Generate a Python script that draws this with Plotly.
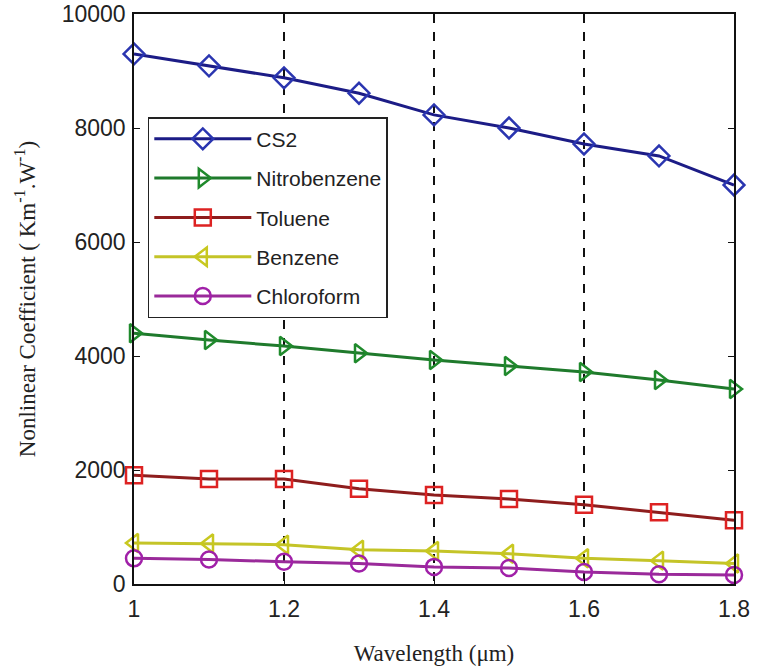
import plotly.graph_objects as go

wavelength = [1.0, 1.1, 1.2, 1.3, 1.4, 1.5, 1.6, 1.7, 1.8]
cs2 = [9300, 9090, 8880, 8610, 8230, 8000, 7720, 7510, 7000]
nitrobenzene = [4400, 4280, 4175, 4050, 3930, 3825, 3720, 3580, 3420]
toluene = [1910, 1840, 1840, 1670, 1560, 1490, 1390, 1260, 1120]
benzene = [720, 710, 690, 600, 580, 530, 450, 410, 360]
chloroform = [450, 430, 390, 360, 300, 280, 210, 170, 160]

x_ticks = [1, 1.2, 1.4, 1.6, 1.8]
x_tick_text = ["1", "1.2", "1.4", "1.6", "1.8"]
y_ticks = [0, 2000, 4000, 6000, 8000, 10000]
y_tick_text = ["0", "2000", "4000", "6000", "8000", "10000"]

series = [
    ("CS2", cs2, "#1c1c86", "#2a35b0", "diamond-open"),
    ("Nitrobenzene", nitrobenzene, "#1f7a2c", "#1f8a2c", "triangle-right-open"),
    ("Toluene", toluene, "#8e1d1d", "#dd2222", "square-open"),
    ("Benzene", benzene, "#c4c428", "#c8c820", "triangle-left-open"),
    ("Chloroform", chloroform, "#9a2a9a", "#a020a8", "circle-open"),
]

fig = go.Figure()
for i, (name, vals, lc, mc, sym) in enumerate(series):
    fig.add_trace(go.Scatter(
        x=wavelength, y=vals, name=name, mode="lines+markers",
        line=dict(color=lc, width=3),
        marker=dict(symbol=sym, size=16, color=mc, line=dict(color=mc, width=2.5)),
        cliponaxis=False, legendgroup=f"g{i}",
    ))

fig.update_layout(
    width=757, height=669,
    margin=dict(l=134, r=23, t=14, b=85),
    paper_bgcolor="white", plot_bgcolor="white",
    font=dict(family="Liberation Sans, Arial, sans-serif", color="#222"),
    showlegend=True,
    legend=dict(
        x=0.023, y=0.819, xanchor="left", yanchor="top",
        bgcolor="white", bordercolor="#222", borderwidth=1.5,
        font=dict(size=21, color="#222"),
        itemwidth=97, tracegroupgap=9,
    ),
    xaxis=dict(
        range=[1, 1.8], tickvals=x_ticks, ticktext=x_tick_text,
        automargin=False,
        showline=True, linecolor="#111", linewidth=1.5, mirror="ticks",
        ticks="inside", ticklen=6, tickcolor="#111", ticklabelstandoff=4,
        showgrid=True, gridcolor="#111", griddash="dash", gridwidth=1.5,
        zeroline=False, tickfont=dict(size=23, color="#222"),
        title=dict(text="Wavelength (μm)", standoff=24,
                   font=dict(family="Liberation Serif, Times New Roman, serif", size=23, color="#222")),
    ),
    yaxis=dict(
        range=[0, 10000], tickvals=y_ticks, ticktext=y_tick_text,
        automargin=False,
        showline=True, linecolor="#111", linewidth=1.5, mirror="ticks",
        ticks="inside", ticklen=6, tickcolor="#111", ticklabelstandoff=2,
        showgrid=False, zeroline=False, tickfont=dict(size=23, color="#222"),
        title=dict(text="Nonlinear Coefficient ( Km<sup>-1</sup>.W<sup>-1</sup>)", standoff=20,
                   font=dict(family="Liberation Serif, Times New Roman, serif", size=23, color="#222")),
    ),
)

fig.write_html("out.html", config={"displayModeBar": False},
               post_script="document.body.style.margin='0px';")
